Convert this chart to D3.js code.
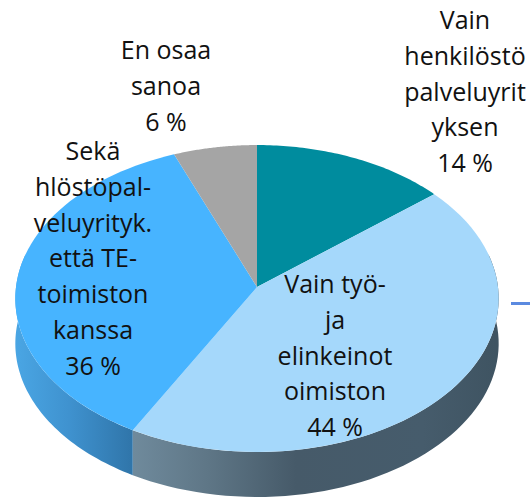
<!DOCTYPE html>
<html><head><meta charset="utf-8">
<script src="https://cdn.jsdelivr.net/npm/d3@7"></script>
<style>html,body{margin:0;background:#fff}svg{display:block}text{font-family:"Open Sans","Noto Sans",sans-serif;font-size:25px;fill:#111;text-anchor:middle;dominant-baseline:middle}</style>
</head><body><div id="c"></div><script>
const categories=["Vain henkilöstöpalveluyrityksen","Vain työ- ja elinkeinotoimiston","Sekä hlöstöpalveluirityk. että TE-toimiston kanssa","En osaa sanoa"];
const values=[14,44,36,6];
const colors=["#008c9e","#a5d8fb","#47b4ff","#a5a5a5"];
const labelLines=[
 ["Vain","henkilöstö","palveluyrit","yksen","14 %"],
 ["Vain työ-","ja","elinkeinot","oimiston","44 %"],
 ["Sekä","hlöstöpal-","veluyrityk.","että TE-","toimiston","kanssa","36 %"],
 ["En osaa","sanoa","6 %"]];
const labelX=[465,335,93,166], labelY=[22,286,153,52];
const W=530,H=498,cx=257,cy=287,R=241,Ry=152.6,p=0.075,depth=45,lh=35.8;
const svg=d3.select("#c").append("svg").attr("width",W).attr("height",H);
const proj=(a,r=1,dy=0)=>{const u=r*Math.sin(a),v=-r*Math.cos(a),k=1-p*v;return [cx+R*u/k,cy+Ry*v/k+dy];};
const line=d3.line();
const arcs=d3.pie().sort(null).value(d=>d)(values);
const samples=(a,b)=>d3.range(0,61).map(i=>a+(b-a)*i/60);
const defs=svg.append("defs");
function grad(id,x1,x2,stops){const g=defs.append("linearGradient").attr("id",id).attr("gradientUnits","userSpaceOnUse").attr("x1",x1).attr("x2",x2).attr("y1",0).attr("y2",0);
 stops.forEach(s=>g.append("stop").attr("offset",s[0]).attr("stop-color",s[1]));}
grad("sideL",15,135,[[0,"#4aa6e4"],[.45,"#3f92cf"],[1,"#2f74a8"]]);
grad("sideR",133,495,[[0,"#6f8a9c"],[.2,"#5f7787"],[.45,"#465a69"],[.8,"#465c6c"],[1,"#3f5462"]]);
[[1,"sideR"],[2,"sideL"]].forEach(([i,g])=>{
 const a=Math.max(arcs[i].startAngle,Math.PI/2-0.22), b=Math.min(arcs[i].endAngle,Math.PI*1.5+0.22);
 const rim=samples(a,b);
 svg.append("path").attr("d",line(rim.map(t=>proj(t)).concat(rim.slice().reverse().map(t=>proj(t,1,depth))))+"Z").attr("fill",`url(#${g})`);
});
arcs.forEach((d,i)=>{
 const pts=[[cx,cy]].concat(samples(d.startAngle,d.endAngle).map(t=>proj(t)));
 svg.append("path").attr("d",line(pts)+"Z").attr("fill",colors[i]);
});
labelLines.forEach((ls,i)=>{
 const t=svg.append("text");
 ls.forEach((s,j)=>t.append("tspan").attr("x",labelX[i]).attr("y",labelY[i]+j*lh).text(s));
});
svg.append("rect").attr("x",511).attr("y",302).attr("width",19).attr("height",3).attr("fill","#5b8ae0");
</script></body></html>
